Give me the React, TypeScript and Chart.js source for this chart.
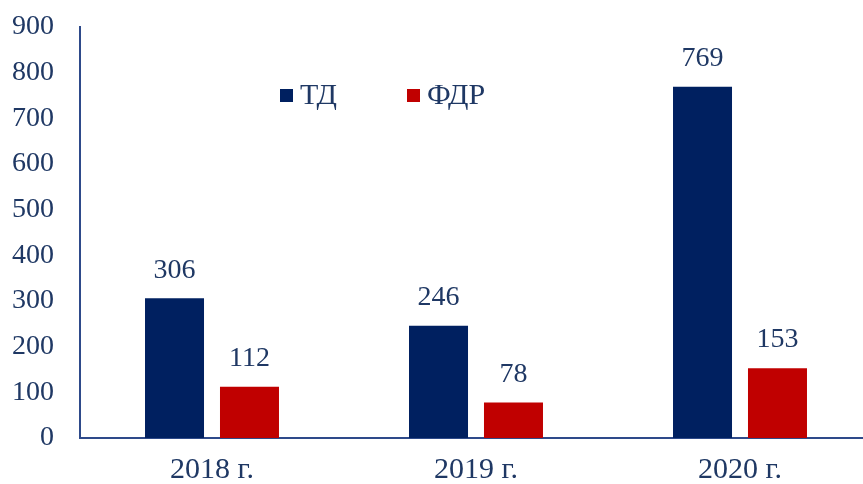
import React, { useEffect, useRef } from "react";
import { Chart, registerables } from "chart.js";

Chart.register(...registerables);

const categories = ["2018 г.", "2019 г.", "2020 г."];
const seriesTD = [306, 246, 769];
const seriesFDR = [112, 78, 153];
const seriesNames = ["ТД", "ФДР"];
const yTicks = [0, 100, 200, 300, 400, 500, 600, 700, 800, 900];

const TEXT = "#1F3864";
const AXIS = "#2E4A8A";
const FONT = "'Liberation Serif', 'Times New Roman', serif";

const valueLabels = {
  id: "valueLabels",
  afterDatasetsDraw(chart: any) {
    const ctx = chart.ctx;
    ctx.save();
    ctx.font = `28px ${FONT}`;
    ctx.fillStyle = TEXT;
    ctx.textAlign = "center";
    ctx.textBaseline = "middle";
    chart.data.datasets.forEach((ds: any, i: number) => {
      const meta = chart.getDatasetMeta(i);
      meta.data.forEach((el: any, j: number) => {
        ctx.fillText(String(ds.data[j]), el.x, el.y - 28);
      });
    });
    ctx.restore();
  },
};

const innerLegend = {
  id: "innerLegend",
  afterDraw(chart: any) {
    const ctx = chart.ctx;
    ctx.save();
    ctx.font = `30px ${FONT}`;
    ctx.textBaseline = "middle";
    ctx.textAlign = "left";
    const starts = [280, 407];
    const cy = 95;
    chart.data.datasets.forEach((ds: any, i: number) => {
      const x = starts[i];
      ctx.fillStyle = ds.backgroundColor;
      ctx.fillRect(x, cy - 6, 13, 13);
      ctx.fillStyle = TEXT;
      ctx.fillText(ds.label, x + 20, cy + 1);
    });
    ctx.restore();
  },
};

export default function App() {
  const ref = useRef<HTMLCanvasElement | null>(null);
  useEffect(() => {
    document.documentElement.style.overflow = "hidden";
    document.body.style.overflow = "hidden";
    const chart = new Chart(ref.current as HTMLCanvasElement, {
      type: "bar",
      data: {
        labels: categories,
        datasets: [
          {
            label: seriesNames[0],
            data: seriesTD,
            backgroundColor: "#002060",
            categoryPercentage: 0.568,
            barPercentage: 0.787,
          },
          {
            label: seriesNames[1],
            data: seriesFDR,
            backgroundColor: "#C00000",
            categoryPercentage: 0.568,
            barPercentage: 0.787,
          },
        ],
      },
      options: {
        animation: false,
        responsive: false,
        maintainAspectRatio: false,
        layout: { padding: { top: 27, right: 0, left: 0, bottom: 0 } },
        plugins: {
          legend: { display: false },
          tooltip: { enabled: false },
        },
        scales: {
          x: {
            grid: { display: false, drawTicks: false },
            border: { display: true, color: AXIS, width: 2 },
            ticks: {
              color: TEXT,
              font: { family: FONT, size: 30 },
              padding: 14,
            },
            afterFit: (s: any) => {
              s.height = 46;
              s.paddingLeft = 0;
              s.paddingRight = 0;
            },
          },
          y: {
            min: 0,
            max: 900,
            grid: { display: false, drawTicks: false },
            border: { display: true, color: AXIS, width: 2 },
            afterBuildTicks: (s: any) => {
              s.ticks = yTicks.map((v) => ({ value: v }));
            },
            ticks: {
              color: TEXT,
              font: { family: FONT, size: 28 },
              padding: 26,
            },
            afterFit: (s: any) => {
              s.width = 80;
              s.paddingTop = 0;
              s.paddingBottom = 0;
            },
          },
        },
      },
      plugins: [valueLabels, innerLegend],
    });
    return () => chart.destroy();
  }, []);
  return (
    <div style={{ position: "fixed", left: 0, top: 0, width: 872, height: 484, background: "#fff" }}>
      <canvas ref={ref} width={872} height={484} style={{ display: "block" }} />
    </div>
  );
}
